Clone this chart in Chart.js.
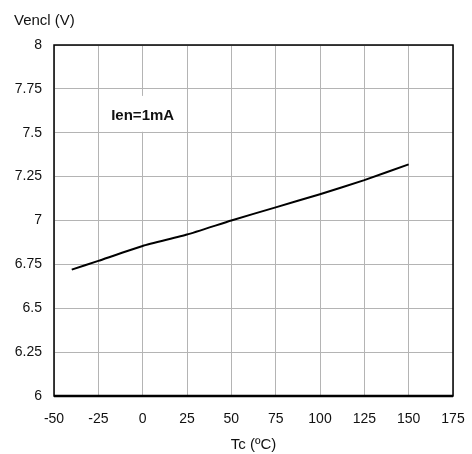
<!DOCTYPE html>
<html>
<head>
<meta charset="utf-8">
<script src="https://cdn.jsdelivr.net/npm/chart.js@4"></script>
<style>
  body { margin: 0; background: #fff; }
  #wrap { width: 472px; height: 454px; }
</style>
</head>
<body>
<div id="wrap"><canvas id="vencl-chart"></canvas></div>
<script>
// temperature (ºC) and clamp voltage (V)
let temps = [-40, -25, 0, 25, 50, 75, 100, 125, 150]
let vencl = [6.72, 6.77, 6.855, 6.92, 7.0, 7.075, 7.15, 7.23, 7.32]
let x_ticks = [-50, -25, 0, 25, 50, 75, 100, 125, 150, 175]
let y_ticks = [6, 6.25, 6.5, 6.75, 7, 7.25, 7.5, 7.75, 8]
let note_text = "Ien=1mA"

let font_name = "'Liberation Sans', Arial, sans-serif"

// frame, y title and the note box
let extras = {
  id: 'extras',
  beforeDatasetsDraw(chart) {
    let ctx = chart.ctx
    let xs = chart.scales.x, ys = chart.scales.y
    // white note box covering grid
    let l = xs.getPixelForValue(-25), r = xs.getPixelForValue(25)
    let t = ys.getPixelForValue(7.71), b = ys.getPixelForValue(7.5)
    ctx.save()
    ctx.fillStyle = '#fff'
    ctx.fillRect(l + 1, t, r - l - 2, b - t - 1)
    ctx.fillStyle = '#111'
    ctx.font = "bold 15px " + font_name
    ctx.textAlign = 'center'
    ctx.textBaseline = 'middle'
    ctx.fillText(note_text, (l + r) / 2, (t + b) / 2 + 2)
    ctx.restore()
  },
  afterDraw(chart) {
    let ctx = chart.ctx
    let a = chart.chartArea
    ctx.save()
    ctx.strokeStyle = '#000'
    ctx.lineWidth = 1.5
    ctx.strokeRect(a.left, a.top, a.right - a.left, a.bottom - a.top)
    ctx.lineWidth = 2.5
    ctx.beginPath()
    ctx.moveTo(a.left, a.bottom)
    ctx.lineTo(a.right, a.bottom)
    ctx.stroke()
    ctx.fillStyle = '#111'
    ctx.font = "15px " + font_name
    ctx.textAlign = 'left'
    ctx.textBaseline = 'middle'
    ctx.fillText("Vencl (V)", 14, 21)
    ctx.restore()
  }
}

let chart = new Chart(document.querySelector("#vencl-chart"), {
  type: 'line',
  data: {
    datasets: [{
      data: temps.map((t, i) => ({ x: t, y: vencl[i] })),
      borderColor: '#000',
      borderWidth: 2,
      pointRadius: 0,
      tension: 0.15,
      fill: false
    }]
  },
  options: {
    responsive: true,
    maintainAspectRatio: false,
    animation: false,
    layout: { padding: { top: 45, right: 19, left: 0, bottom: 0 } },
    plugins: { legend: { display: false }, tooltip: { enabled: false } },
    scales: {
      x: {
        type: 'linear',
        min: -50, max: 175,
        afterBuildTicks: (s) => { s.ticks = x_ticks.map(v => ({ value: v })) },
        afterFit: (s) => { s.height = 58; s.paddingLeft = 0; s.paddingRight = 0 },
        grid: { color: '#b4b4b4', lineWidth: 1, drawTicks: false },
        border: { display: false },
        ticks: { color: '#111', padding: 15, font: { family: font_name, size: 14 } },
        title: { display: true, text: 'Tc (ºC)', color: '#111', padding: { top: 4, bottom: 0 }, font: { family: font_name, size: 15 } }
      },
      y: {
        min: 6, max: 8,
        afterBuildTicks: (s) => { s.ticks = y_ticks.map(v => ({ value: v })) },
        afterFit: (s) => { s.width = 54; s.paddingTop = 0; s.paddingBottom = 0 },
        grid: { color: '#b4b4b4', lineWidth: 1, drawTicks: false },
        border: { display: false },
        ticks: { color: '#111', padding: 12, font: { family: font_name, size: 14 }, callback: (v) => String(v) }
      }
    }
  },
  plugins: [extras]
})
</script>
</body>
</html>
